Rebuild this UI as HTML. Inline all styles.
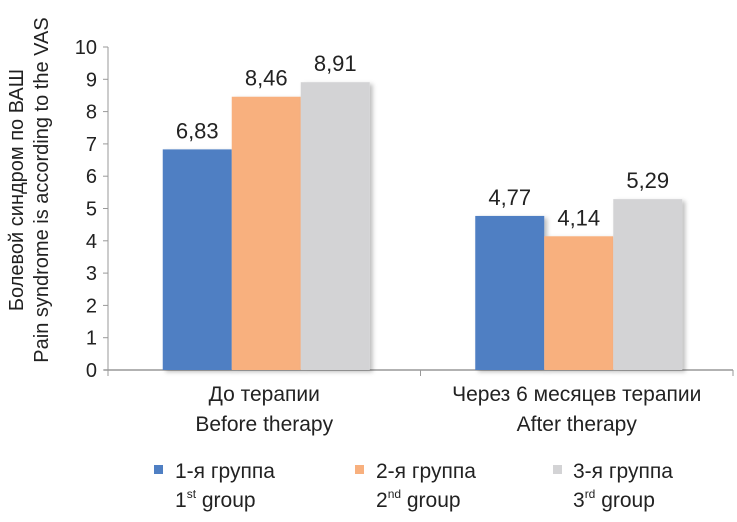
<!DOCTYPE html>
<html><head><meta charset="utf-8"><style>
body{margin:0;background:#fff;}
svg text{font-family:"Liberation Sans","DejaVu Sans",sans-serif;fill:#222;}
</style></head><body>
<svg id="chart" width="737" height="517" xmlns="http://www.w3.org/2000/svg">
<defs><filter id="sh" x="-10%" y="-10%" width="130%" height="130%"><feDropShadow dx="3" dy="2" stdDeviation="2" flood-color="#000" flood-opacity="0.25"/></filter></defs>
<g id="axes"></g><g id="bars"></g><g id="labels"></g>
<text transform="translate(23,190) rotate(-90)" text-anchor="middle" font-size="20">Болевой синдром по ВАШ</text>
<text transform="translate(48,190) rotate(-90)" text-anchor="middle" font-size="20">Pain syndrome is according to the VAS</text>
<g>
<rect x="154" y="465" width="9" height="9" fill="#4f7fc3"/>
<text x="175" y="478" font-size="21">1-я группа</text>
<text x="175" y="507" font-size="21">1<tspan font-size="12" dy="-9">st</tspan><tspan dy="9"> group</tspan></text>
<rect x="355" y="465" width="9" height="9" fill="#f8b07e"/>
<text x="376" y="478" font-size="21">2-я группа</text>
<text x="376" y="507" font-size="21">2<tspan font-size="12" dy="-9">nd</tspan><tspan dy="9"> group</tspan></text>
<rect x="553" y="465" width="9" height="9" fill="#d3d3d5"/>
<text x="573" y="478" font-size="21">3-я группа</text>
<text x="573" y="507" font-size="21">3<tspan font-size="12" dy="-9">rd</tspan><tspan dy="9"> group</tspan></text>
</g>
</svg>
<script>
const categoriesRu=["До терапии","Через 6 месяцев терапии"];
const categoriesEn=["Before therapy","After therapy"];
const group1=[6.83,4.77];
const group2=[8.46,4.14];
const group3=[8.91,5.29];
const yTicks=[0,1,2,3,4,5,6,7,8,9,10];
const NS="http://www.w3.org/2000/svg";
const x0=108,x1=733,y0=370,yTop=47,yMax=10;
const y=v=>y0-(v/yMax)*(y0-yTop);
const bandW=(x1-x0)/categoriesRu.length;
const barW=69;
function mk(t,a,p){const e=document.createElementNS(NS,t);for(const k in a)e.setAttribute(k,a[k]);p.appendChild(e);return e;}
const axes=document.getElementById('axes'),bars=document.getElementById('bars'),labels=document.getElementById('labels');
const ya=mk('line',{x1:x0,y1:y(yMax),x2:x0,y2:y0,stroke:'#999','stroke-width':1},axes);


yTicks.forEach(t=>{
 const l=mk('line',{x1:x0-5,y1:y(t),x2:x0,y2:y(t),stroke:'#999'},axes);
 
 
 const tx=mk('text',{x:x0-11,y:y(t)+7,'text-anchor':'end','font-size':20},axes);tx.textContent=t;
 
 
});
const xa=mk('line',{x1:x0-4,y1:y0,x2:x1,y2:y0,stroke:'#999','stroke-width':1.5},axes);


for(let i=0;i<=categoriesRu.length;i++){
 const l=mk('line',{x1:x0+i*bandW,y1:y0,x2:x0+i*bandW,y2:y0+6,stroke:'#999'},axes);
 
 
}
const series=[group1,group2,group3],colors=['#4f7fc3','#f8b07e','#d3d3d5'];
categoriesRu.forEach((c,i)=>{
 const cx=x0+bandW*(i+0.5);
 const start=cx-barW*1.5+2;
 series.forEach((s,j)=>{
  const bx=start+j*barW;
  const r=mk('rect',{x:bx,y:y(s[i]),width:barW,height:y0-y(s[i]),fill:colors[j],filter:'url(#sh)'},bars);
  
  
  const t=mk('text',{x:bx+barW/2,y:y(s[i])-11,'text-anchor':'middle','font-size':22},labels);
  t.textContent=s[i].toFixed(2).replace('.',',');
  
  
 });
 const t1=mk('text',{x:cx,y:401,'text-anchor':'middle','font-size':21},labels);t1.textContent=c;
 
 
 const t2=mk('text',{x:cx,y:431,'text-anchor':'middle','font-size':21},labels);t2.textContent=categoriesEn[i];
 
 
});
</script>
</body></html>
